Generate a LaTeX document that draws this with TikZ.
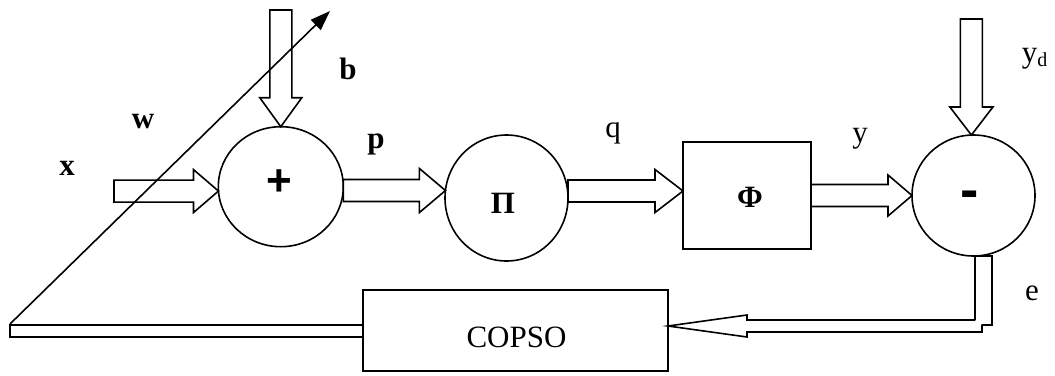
\documentclass[tikz,border=0pt]{standalone}
\usepackage{fontspec}
\setmainfont{Liberation Serif}
\newfontfamily\signfont{Liberation Sans}
\usetikzlibrary{calc,shapes.geometric,arrows.meta}

% hollow block arrow pointing right: start, tip, shaft half width, head half width, head length
\newcommand\hollowright[5]{%
  \draw[hollow] let \p1=(#1), \p2=(#2) in
    (\x1,\y2+#3pt) -- (\x2-#5pt,\y2+#3pt) -- (\x2-#5pt,\y2+#4pt) -- (\x2,\y2)
    -- (\x2-#5pt,\y2-#4pt) -- (\x2-#5pt,\y2-#3pt) -- (\x1,\y2-#3pt) -- cycle;}
% hollow block arrow pointing down: start, tip, shaft half width, head half width, head length
\newcommand\hollowdown[5]{%
  \draw[hollow] let \p1=(#1), \p2=(#2) in
    (\x2-#3pt,\y1) -- (\x2-#3pt,\y2+#5pt) -- (\x2-#4pt,\y2+#5pt) -- (\x2,\y2)
    -- (\x2+#4pt,\y2+#5pt) -- (\x2+#3pt,\y2+#5pt) -- (\x2+#3pt,\y1) -- cycle;}

\begin{document}
\begin{tikzpicture}[x=1pt,y=-1pt,line width=1.6pt,line join=miter,
  lbl/.style={inner sep=0pt,anchor=base,font=\fontsize{31}{36}\selectfont},
  blbl/.style={lbl,font=\fontsize{31}{36}\selectfont\bfseries},
  junction/.style={draw,ellipse,inner sep=0pt,outer sep=0pt},
  block/.style={draw,rectangle,inner sep=0pt,outer sep=0pt},
  hollow/.style={draw,fill=white},
  sign/.style={inner sep=0pt,anchor=center}]
\useasboundingbox (0,0) rectangle (1055,375);

% processing elements
\node[junction,minimum width=125pt,minimum height=120pt] (plus) at (280.8,186.7) {};
\node[junction,minimum width=123pt,minimum height=126pt] (pi) at (506.5,198) {};
\node[block,minimum width=128pt,minimum height=107pt] (phi) at (747,195.5) {};
\node[junction,minimum width=123pt,minimum height=121pt] (minus) at (973.5,195.5) {};
\node[block,minimum width=305pt,minimum height=81pt] (copso) at (515.5,330.5) {};

% symbols inside the elements
\node[sign,font=\signfont\fontsize{44}{48}\selectfont\bfseries] (plussign) at (279.5,183) {+};
\node[blbl] (pisign) at (503,213) {Π};
\node[blbl] (phisign) at (750,207) {Φ};
\node[sign,font=\signfont\fontsize{55}{60}\selectfont\bfseries] (minussign) at (969.5,199.5) {-};
\node[lbl] (copsotext) at (516.5,347) {COPSO};

% free ends of the inputs
\coordinate (xin) at (114,191);
\coordinate (bin) at (282,10);
\coordinate (ydin) at (970,19);
\coordinate (wbase) at (10,324);
\coordinate (wtip) at (330,11);
\coordinate (fbtip) at ($(copso.east)+(0,-4.5)$);

% forward signal path
\hollowright{xin}{plus.184}{11}{21.5}{25}
\hollowdown{bin}{plus.north}{11}{21}{29}
\hollowright{plus.east}{pi.173}{11}{22}{26}
\hollowright{pi.east}{$(phi.west)+(0,-4.5)$}{11}{21.5}{28}
\hollowright{phi.east}{minus.west}{11}{20.5}{24}
\hollowdown{ydin}{minus.92}{11}{21.5}{28}

% error feedback to the optimiser
\draw[hollow] ($(minus.south)+(1.5,0)$) rectangle ($(minus.south)+(18.5,69)$);
\draw[hollow] ($(minus.south)+(1.5,64)$) -- ($(fbtip)+(79,-6)$) -- ($(fbtip)+(79,-11)$)
  -- (fbtip) -- ($(fbtip)+(79,11)$) -- ($(fbtip)+(79,6)$) -- ($(minus.south)+(8.5,76)$)
  -- ($(minus.south)+(8.5,69)$);

% weight update from the optimiser
\draw ($(copso.west)+(0,-5.5)$) -- (10,325) -- (10,337) -- ($(copso.west)+(0,6.5)$);
\draw[-{Triangle[length=20pt,width=14pt]}] (wbase) -- (wtip);

% signal labels
\node[blbl] (xlbl) at (67,175) {x};
\node[blbl] (wlbl) at (143,128) {w};
\node[blbl] (blbl) at (348,79) {b};
\node[blbl] (plbl) at (376,148) {p};
\node[lbl] (qlbl) at (613,137) {q};
\node[lbl] (ylbl) at (860,142) {y};
\node[lbl,anchor=base west] (ydlbl) at (1021,62) {y\raisebox{-4pt}{\fontsize{20}{24}\selectfont d}};
\node[lbl] (elbl) at (1032,300) {e};
\end{tikzpicture}
\end{document}
